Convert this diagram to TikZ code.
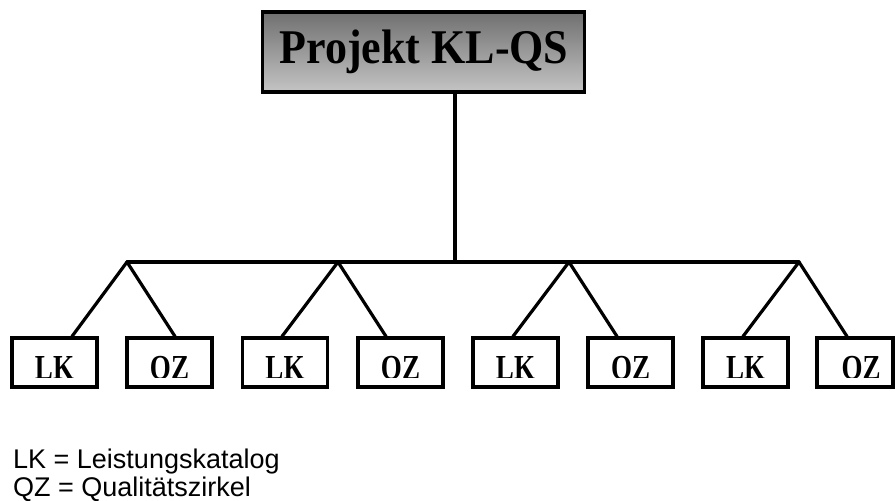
\documentclass[tikz,border=0pt]{standalone}
\usepackage{fontspec}
\usepackage{graphicx}
\setmainfont{Liberation Serif}
\newfontfamily\legendfont{Liberation Sans}
\definecolor{gradtop}{RGB}{112,112,112}
\definecolor{gradbot}{RGB}{196,196,196}
\tikzset{
  conn/.style={line width=3.2pt, line cap=round},
  topbox/.style={draw=black, line width=3.4pt, minimum width=322pt, minimum height=80pt,
    inner sep=0pt, top color=gradtop, bottom color=gradbot},
  subbox/.style={draw=black, line width=3.2pt, minimum width=85pt, minimum height=49pt, inner sep=0pt},
  sublabel/.style={anchor=base, inner sep=0pt, font=\bfseries\fontsize{27}{27}\selectfont},
  legend/.style={anchor=base west, inner sep=0pt, font=\legendfont\fontsize{27}{28}\selectfont}
}
\begin{document}
\begin{tikzpicture}[x=1pt,y=-1pt]
\useasboundingbox (0,0) rectangle (895,501);
% top box
\node[topbox] (top) at (423.5,52) {};
\node[anchor=base, inner sep=0pt, font=\bfseries\fontsize{44}{44}\selectfont] (title) at (424,63) {\scalebox{1}[1.1]{Projekt KL-QS}};
% hub and branch points
\coordinate (hub) at (455,262);
\coordinate (a1) at (127,262);
\coordinate (a2) at (338,262);
\coordinate (a3) at (569,262);
\coordinate (a4) at (799,262);
\draw[conn] (top.south -| hub) -- (hub);
\draw[conn] (a1) -- (a4);
% boxes
\node[subbox] (b1) at (54.5,362.5) {};
\node[subbox] (b2) at (169.5,362.5) {};
\node[subbox] (b3) at (285,362.5) {};
\node[subbox] (b4) at (400.5,362.5) {};
\node[subbox] (b5) at (515.5,362.5) {};
\node[subbox] (b6) at (630.5,362.5) {};
\node[subbox] (b7) at (745.5,362.5) {};
\node[subbox, minimum width=76pt] (b8) at (855,362.5) {};
% clipped labels
\begin{scope}
\clip (0,340) rectangle (895,377);
\node[sublabel] (t1) at (54.5,379.5) {\scalebox{1}[1.3]{LK}};
\node[sublabel] (t2) at (169.5,379.5) {\scalebox{1}[1.3]{QZ}};
\node[sublabel] (t3) at (285,379.5) {\scalebox{1}[1.3]{LK}};
\node[sublabel] (t4) at (400.5,379.5) {\scalebox{1}[1.3]{QZ}};
\node[sublabel] (t5) at (515.5,379.5) {\scalebox{1}[1.3]{LK}};
\node[sublabel] (t6) at (630.5,379.5) {\scalebox{1}[1.3]{QZ}};
\node[sublabel] (t7) at (745.5,379.5) {\scalebox{1}[1.3]{LK}};
\node[sublabel] (t8) at (861,379.5) {\scalebox{1}[1.3]{QZ}};
\end{scope}
% connectors
\draw[conn] (a1) -- ([xshift=17.5pt]b1.north);
\draw[conn] (a1) -- ([xshift=5.5pt]b2.north);
\draw[conn] (a2) -- ([xshift=-3pt]b3.north);
\draw[conn] (a2) -- ([xshift=-14.5pt]b4.north);
\draw[conn] (a3) -- ([xshift=-2.5pt]b5.north);
\draw[conn] (a3) -- ([xshift=-13.5pt]b6.north);
\draw[conn] (a4) -- ([xshift=-2.5pt]b7.north);
\draw[conn] (a4) -- ([xshift=-8pt]b8.north);
% legend
\node[legend] (l1) at (13,468) {LK = Leistungskatalog};
\node[legend] (l2) at (13,496) {QZ = Qualitätszirkel};
\end{tikzpicture}
\end{document}
